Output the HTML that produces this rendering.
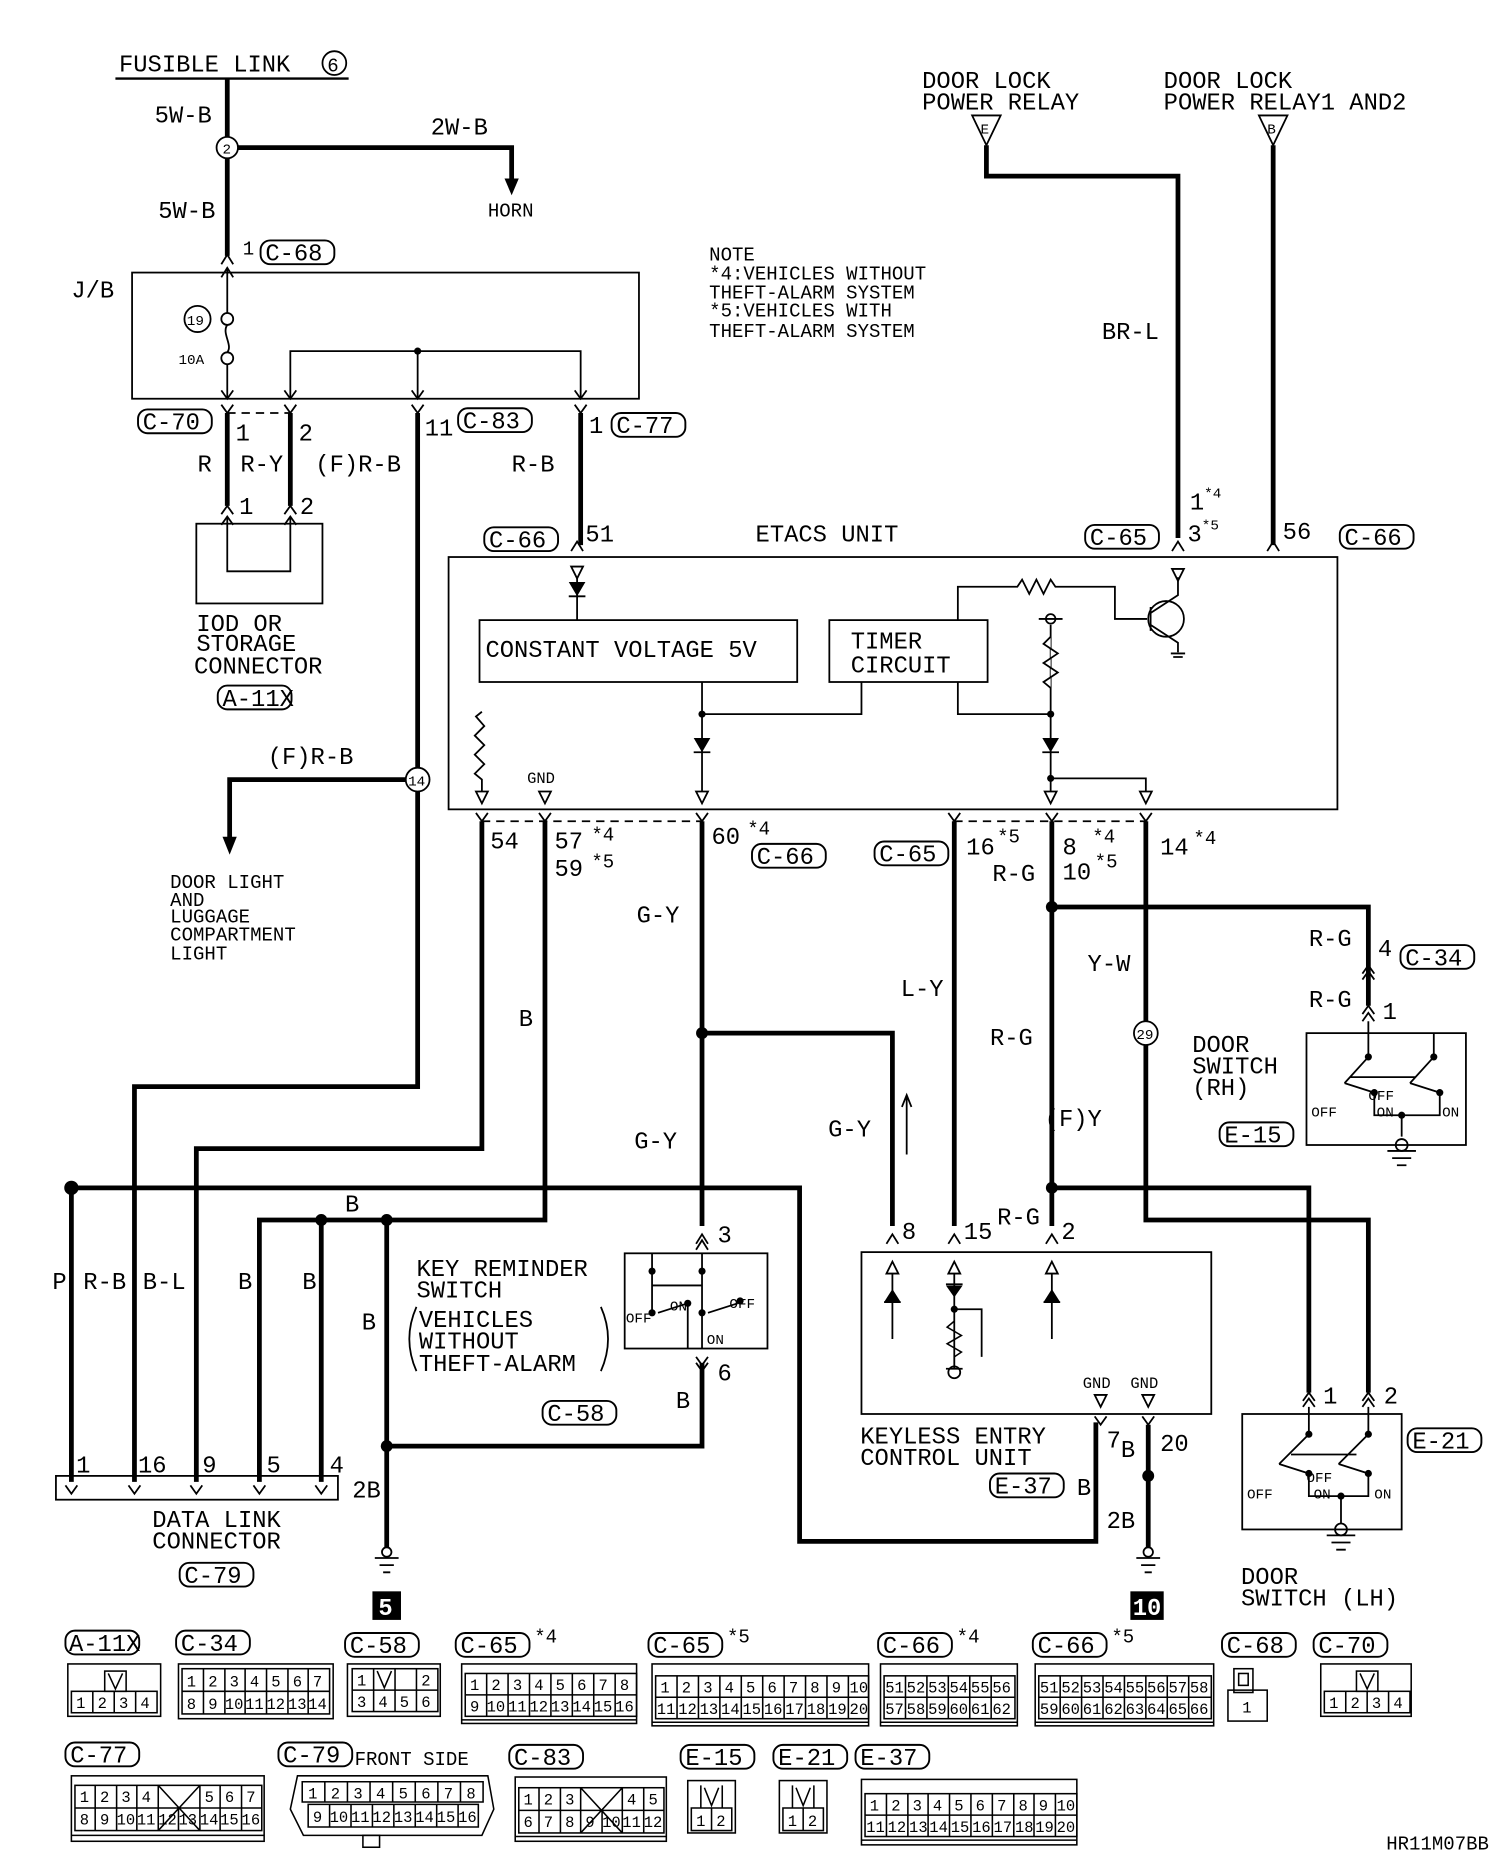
<!DOCTYPE html>
<html><head><meta charset="utf-8"><style>
html,body{margin:0;padding:0;background:#fff;}
svg{display:block;}
text{font-family:"Liberation Mono",monospace;font-size:20px;fill:#000;}
.s{font-size:16px;}
.xs{font-size:12px;}
.t{fill:none;stroke:#000;stroke-width:4;}
.n{fill:none;stroke:#000;stroke-width:1.5;}
.d{fill:none;stroke:#000;stroke-width:1.5;stroke-dasharray:7 5;}
.cl{fill:#fff;stroke:#000;stroke-width:1.6;}
.g{fill:none;stroke:#000;stroke-width:1.3;}
.gt{font-size:13px;}
</style></head><body>
<svg width="1504" height="1852" viewBox="0 0 1264 1556" preserveAspectRatio="none" xmlns="http://www.w3.org/2000/svg">
<rect width="1264" height="1556" fill="#fff"/>

<!-- FUSIBLE LINK -->
<text x="100" y="60" font-size="21">FUSIBLE LINK</text>
<circle cx="281" cy="53" r="10" class="n"/><text x="275" y="60" class="s">6</text>
<line x1="97" y1="66" x2="293" y2="66" stroke="#000" stroke-width="2"/>
<path class="t" d="M191 66V215"/>
<circle cx="191" cy="124" r="9" fill="#fff" stroke="#000" stroke-width="1.5"/><text x="187" y="129" class="xs">2</text>
<text x="130" y="103">5W-B</text><text x="133" y="183">5W-B</text>
<path class="t" d="M200 124H430V152"/><path d="M424 150L436 150L430 164Z"/>
<text x="362" y="113">2W-B</text><text x="410" y="182" class="s">HORN</text>
<path class="n" d="M186 222L191 214L196 222M186 233L191 225L196 233"/>
<text x="204" y="214" class="s">1</text>
<rect x="219" y="202" width="62" height="20" rx="8" class="cl"/><text x="223" y="219">C-68</text>

<!-- J/B -->
<rect x="111" y="229" width="426" height="106" class="n"/>
<text x="60" y="250">J/B</text>
<path class="n" d="M191 225V263M191 273C186 280 196 290 191 296M191 306V335"/>
<circle cx="191" cy="268" r="5" class="n"/><circle cx="191" cy="301" r="5" class="n"/>
<circle cx="166" cy="268" r="11" class="n"/><text x="157" y="273" class="xs">19</text>
<text x="150" y="306" class="xs">10A</text>
<path class="n" d="M244 335V295H488V335M351 295V335"/><circle cx="351" cy="295" r="3"/>
<path class="n" d="M186 328L191 335L196 328M239 328L244 335L249 328M346 328L351 335L356 328M483 328L488 335L493 328"/>
<path class="n" d="M186 340L191 347L196 340M239 340L244 347L249 340M346 340L351 347L356 340M483 340L488 347L493 340"/>
<rect x="116" y="344" width="62" height="20" rx="8" class="cl"/><text x="120" y="361">C-70</text>
<path class="t" d="M191 347V425M244 347V425M351 347V645M488 347V458"/>
<path class="d" d="M191 347H244"/>
<text x="198" y="370">1</text><text x="251" y="370">2</text><text x="357" y="366">11</text>
<rect x="385" y="343" width="62" height="20" rx="8" class="cl"/><text x="389" y="360">C-83</text>
<text x="495" y="364">1</text>
<rect x="514" y="347" width="62" height="20" rx="8" class="cl"/><text x="518" y="364">C-77</text>
<text x="166" y="396">R</text><text x="202" y="396">R-Y</text><text x="265" y="396">(F)R-B</text><text x="430" y="396">R-B</text>
<path class="n" d="M186 432L191 425L196 432M239 432L244 425L249 432M186 441L191 434L196 441M239 441L244 434L249 441"/>
<text x="201" y="432">1</text><text x="252" y="432">2</text>
<rect x="165" y="440" width="106" height="67" class="n"/>
<path class="n" d="M191 434V480H244V434"/>
<text x="165" y="530">IOD OR</text><text x="165" y="547">STORAGE</text><text x="163" y="566">CONNECTOR</text>
<rect x="183" y="576" width="62" height="20" rx="8" class="cl"/><text x="187" y="593">A-11X</text>

<!-- door light -->
<circle cx="351" cy="655" r="10" fill="#fff" stroke="#000" stroke-width="1.5"/><text x="343" y="660" class="xs">14</text>
<path class="t" d="M341 655H193V705"/><path d="M187 703L199 703L193 718Z"/>
<text x="225" y="642">(F)R-B</text>
<text x="143" y="746" class="s">DOOR LIGHT</text><text x="143" y="761" class="s">AND</text><text x="143" y="775" class="s">LUGGAGE</text><text x="143" y="790" class="s">COMPARTMENT</text><text x="143" y="806" class="s">LIGHT</text>
<path class="t" d="M351 665V913H113V1245"/>

<!-- NOTE -->
<text x="596" y="219" class="s">NOTE</text>
<text x="596" y="235" class="s">*4:VEHICLES WITHOUT</text>
<text x="596" y="251" class="s">   THEFT-ALARM SYSTEM</text>
<text x="596" y="266" class="s">*5:VEHICLES WITH</text>
<text x="596" y="283" class="s">   THEFT-ALARM SYSTEM</text>

<!-- door lock relays -->
<text x="775" y="74">DOOR LOCK</text><text x="775" y="92">POWER RELAY</text>
<path class="n" d="M817 97H841L829 122Z"/><text x="824" y="112" class="xs">E</text>
<path class="t" d="M829 122V148H990V452"/>
<text x="926" y="285">BR-L</text>
<text x="978" y="74">DOOR LOCK</text><text x="978" y="92">POWER RELAY1 AND2</text>
<path class="n" d="M1058 97H1082L1070 122Z"/><text x="1065" y="112" class="xs">B</text>
<path class="t" d="M1070 122V458"/>
<path class="n" d="M985 463L990 455L995 463M1065 463L1070 455L1075 463M480 463L485 455L490 463"/>
<text x="1000" y="428">1</text><text x="1012" y="418" class="xs">*4</text>
<text x="998" y="455">3</text><text x="1010" y="445" class="xs">*5</text>
<rect x="912" y="441" width="62" height="20" rx="8" class="cl"/><text x="916" y="458">C-65</text>
<text x="1078" y="453">56</text>
<rect x="1126" y="441" width="62" height="20" rx="8" class="cl"/><text x="1130" y="458">C-66</text>

<!-- ETACS -->
<text x="635" y="455">ETACS UNIT</text>
<rect x="407" y="443" width="62" height="20" rx="8" class="cl"/><text x="411" y="460">C-66</text>
<text x="492" y="455">51</text>
<rect x="377" y="468" width="747" height="212" class="n"/>
<path class="n" d="M480 476H490L485 486Z"/><path d="M478 489H492L485 501Z"/><path class="n" d="M478 501H492M485 486V521"/>
<rect x="403" y="521" width="267" height="52" class="n"/>
<text x="408" y="552">CONSTANT VOLTAGE 5V</text>
<rect x="697" y="521" width="133" height="52" class="n"/>
<text x="715" y="545">TIMER</text><text x="715" y="565">CIRCUIT</text>
<path class="n" d="M590 573V665M590 600H724V573M805 573V600H883M883 525V665M883 654H963V665"/>
<circle cx="590" cy="600" r="3"/><circle cx="883" cy="600" r="3"/><circle cx="883" cy="654" r="3"/>
<path d="M583 620H597L590 632Z"/><path class="n" d="M583 632H597"/>
<path d="M876 620H890L883 632Z"/><path class="n" d="M876 632H890"/>
<circle cx="883" cy="520" r="4" class="n"/><path class="n" d="M873 520H893"/>
<path fill="#fff" stroke="#000" stroke-width="1.5" d="M883 535L877 541L889 549L877 557L889 565L877 573L883 578"/>
<path class="n" d="M805 521V493H855L859 487L865 499L871 487L877 499L883 487L887 493H937V520H964"/>
<circle cx="980" cy="520" r="15" class="n"/>
<path class="n" d="M967 510V530M967 515L990 500V485M967 525L990 540V548M984 549H996M986 552H994"/>
<path class="n" d="M985 478H995L990 488Z"/>
<path class="n" d="M405 598L400 602L407 610L399 618L407 626L399 634L407 642L399 650L405 655V665"/>
<text x="443" y="658" class="gt">GND</text>
<path class="n" d="M400 665H410L405 675ZM453 665H463L458 675ZM585 665H595L590 675ZM878 665H888L883 675ZM958 665H968L963 675Z"/>
<path class="n" d="M400 683L405 690L410 683M453 683L458 690L463 683M585 683L590 690L595 683M797 683L802 690L807 683M879 683L884 690L889 683M958 683L963 690L968 683"/>
<path class="d" d="M405 690H590M802 690H963"/>
<text x="412" y="713">54</text><text x="466" y="713">57</text><text x="497" y="706" class="s">*4</text>
<text x="466" y="736">59</text><text x="497" y="729" class="s">*5</text>
<text x="598" y="709">60</text><text x="628" y="701" class="s">*4</text>
<rect x="632" y="709" width="62" height="20" rx="8" class="cl"/><text x="636" y="726">C-66</text>
<rect x="735" y="707" width="62" height="20" rx="8" class="cl"/><text x="739" y="724">C-65</text>
<text x="812" y="718">16</text><text x="838" y="708" class="s">*5</text>
<text x="893" y="718">8</text><text x="918" y="708" class="s">*4</text>
<text x="893" y="739">10</text><text x="920" y="729" class="s">*5</text>
<text x="834" y="740">R-G</text>
<text x="975" y="718">14</text><text x="1003" y="709" class="s">*4</text>

<!-- left wires -->
<path class="t" d="M405 690V965H165V1245M458 690V1025H218V1245M270 1025V1245M325 1025V1300M590 690V1030M590 868H750V1030"/>
<circle cx="270" cy="1025" r="5"/><circle cx="325" cy="1025" r="5"/><circle cx="590" cy="868" r="5"/>
<path class="t" d="M60 998H672V1295H921V1195M60 998V1245"/><circle cx="60" cy="998" r="6"/>
<text x="535" y="775">G-Y</text><text x="533" y="965">G-Y</text><text x="696" y="955">G-Y</text>
<path class="n" d="M762 970V920M758 930L762 920L766 930"/>
<text x="436" y="862">B</text><text x="290" y="1018">B</text>
<text x="44" y="1083">P</text><text x="70" y="1083">R-B</text><text x="120" y="1083">B-L</text>
<text x="200" y="1083">B</text><text x="254" y="1083">B</text><text x="304" y="1117">B</text>
<rect x="47" y="1240" width="237" height="20" class="n"/>
<path class="n" d="M55 1248L60 1255L65 1248M108 1248L113 1255L118 1248M160 1248L165 1255L170 1248M213 1248L218 1255L223 1248M265 1248L270 1255L275 1248"/>
<text x="64" y="1237">1</text><text x="116" y="1237">16</text><text x="170" y="1237">9</text><text x="224" y="1237">5</text><text x="277" y="1237">4</text>
<text x="296" y="1258">2B</text>
<text x="128" y="1283">DATA LINK</text><text x="128" y="1301">CONNECTOR</text>
<rect x="151" y="1313" width="62" height="20" rx="8" class="cl"/><text x="155" y="1330">C-79</text>
<circle cx="325" cy="1304" r="4" class="n"/><path class="n" d="M315 1309H335M319 1315H331M322 1321H328"/>
<rect x="313" y="1337" width="24" height="24" fill="#000"/><text x="318" y="1357" fill="#fff" style="fill:#fff;font-weight:bold">5</text>

<!-- key reminder -->
<path class="n" d="M585 1045L590 1037L595 1045M585 1050L590 1042L595 1050M585 1140L590 1147L595 1140M585 1145L590 1152L595 1145"/>
<text x="603" y="1044">3</text><text x="603" y="1160">6</text><text x="568" y="1183">B</text>
<rect x="525" y="1053" width="120" height="80" class="n"/>
<path class="n" d="M548 1053V1103M590 1053V1103M548 1080H590M553 1103L578 1095M595 1103L620 1095M578 1095V1133M590 1103V1133"/>
<circle cx="548" cy="1068" r="3"/><circle cx="590" cy="1068" r="3"/><circle cx="548" cy="1103" r="3"/><circle cx="590" cy="1103" r="3"/><circle cx="578" cy="1095" r="3"/><circle cx="622" cy="1093" r="3"/>
<text x="526" y="1111" class="xs">OFF</text><text x="563" y="1101" class="xs">ON</text><text x="613" y="1099" class="xs">OFF</text><text x="594" y="1129" class="xs">ON</text>
<path class="t" d="M590 1145V1215H325"/><circle cx="325" cy="1215" r="5"/>
<text x="350" y="1072">KEY REMINDER</text><text x="350" y="1090">SWITCH</text>
<text x="352" y="1115">VEHICLES</text><text x="352" y="1133">WITHOUT</text><text x="352" y="1152">THEFT-ALARM</text>
<path class="n" d="M350 1098Q338 1125 350 1152M505 1098Q517 1125 505 1152"/>
<rect x="456" y="1177" width="62" height="20" rx="8" class="cl"/><text x="460" y="1194">C-58</text>

<!-- right wires -->
<path class="t" d="M802 690V1030M884 690V1030M884 762H1150V845M884 998H1100V1170M963 690V858M963 878V1025H1150V1170"/>
<circle cx="884" cy="762" r="5"/><circle cx="884" cy="998" r="5"/>
<circle cx="963" cy="868" r="10" fill="#fff" stroke="#000" stroke-width="1.5"/><text x="955" y="873" class="xs">29</text>
<text x="757" y="837">L-Y</text><text x="832" y="878">R-G</text><text x="914" y="816">Y-W</text><text x="878" y="946">(F)Y</text>
<text x="1100" y="795">R-G</text><text x="1158" y="803">4</text>
<rect x="1177" y="794" width="62" height="20" rx="8" class="cl"/><text x="1181" y="811">C-34</text>
<text x="1100" y="846">R-G</text><text x="1162" y="856">1</text>
<path class="n" d="M1145 818L1150 811L1155 818M1145 823L1150 816L1155 823M1145 852L1150 845L1155 852M1145 858L1150 851L1155 858"/>
<rect x="1098" y="868" width="134" height="94" class="n"/>
<path class="n" d="M1150 858V888L1130 910M1205 868V888L1185 910M1135 905H1190M1130 910L1155 918M1185 910L1210 918M1155 918V937H1210V918M1178 937V955"/>
<circle cx="1150" cy="888" r="3"/><circle cx="1205" cy="888" r="3"/><circle cx="1155" cy="918" r="3"/><circle cx="1210" cy="918" r="3"/><circle cx="1178" cy="937" r="3"/>
<text x="1102" y="938" class="xs">OFF</text><text x="1150" y="924" class="xs">OFF</text><text x="1157" y="938" class="xs">ON</text><text x="1212" y="938" class="xs">ON</text>
<circle cx="1178" cy="962" r="5" class="n"/><path class="n" d="M1166 967H1190M1170 973H1186M1174 979H1182"/>
<text x="1002" y="884">DOOR</text><text x="1002" y="902">SWITCH</text><text x="1002" y="920">(RH)</text>
<rect x="1025" y="943" width="62" height="20" rx="8" class="cl"/><text x="1029" y="960">E-15</text>

<!-- keyless -->
<path class="n" d="M745 1045L750 1037L755 1045M797 1045L802 1037L807 1045M879 1045L884 1037L889 1045"/>
<text x="758" y="1041">8</text><text x="810" y="1041">15</text><text x="838" y="1029">R-G</text><text x="892" y="1041">2</text>
<rect x="724" y="1052" width="294" height="136" class="n"/>
<path class="n" d="M745 1070H755L750 1060ZM797 1070H807L802 1060ZM879 1070H889L884 1060Z"/>
<path class="n" d="M750 1070V1125M802 1070V1150M884 1070V1125M743 1094H757M877 1094H891M795 1079H809M802 1100H825V1140M795 1150H809"/>
<path d="M743 1094H757L750 1083ZM795 1080H809L802 1090ZM877 1094H891L884 1083Z"/>
<circle cx="802" cy="1100" r="3"/><circle cx="802" cy="1153" r="5" class="n"/>
<path fill="none" stroke="#000" stroke-width="1.3" d="M802 1110L796 1115L808 1122L796 1129L808 1136L802 1140V1148"/>
<text x="910" y="1166" class="gt">GND</text><text x="950" y="1166" class="gt">GND</text>
<path class="n" d="M920 1172H930L925 1182ZM960 1172H970L965 1182Z"/>
<path class="n" d="M920 1190L925 1197L930 1190M960 1190L965 1197L970 1190"/>
<path class="t" d="M965 1197V1300"/><circle cx="965" cy="1240" r="5"/>
<text x="930" y="1216">7</text><text x="942" y="1224">B</text><text x="975" y="1219">20</text><text x="930" y="1284">2B</text><text x="905" y="1256">B</text>
<text x="723" y="1213">KEYLESS ENTRY</text><text x="723" y="1231">CONTROL UNIT</text>
<rect x="832" y="1238" width="62" height="20" rx="8" class="cl"/><text x="836" y="1255">E-37</text>
<circle cx="965" cy="1304" r="4" class="n"/><path class="n" d="M955 1309H975M959 1315H971M962 1321H968"/>
<rect x="950" y="1337" width="28" height="24" fill="#000"/><text x="952" y="1357" style="fill:#fff;font-weight:bold">10</text>

<!-- E-21 -->
<path class="n" d="M1095 1177L1100 1170L1105 1177M1095 1182L1100 1175L1105 1182M1145 1177L1150 1170L1155 1177M1145 1182L1150 1175L1155 1182"/>
<text x="1112" y="1179">1</text><text x="1163" y="1179">2</text>
<rect x="1044" y="1188" width="134" height="97" class="n"/>
<path class="n" d="M1100 1182V1205L1075 1230M1150 1182V1205L1125 1230M1085 1222H1140M1075 1230L1100 1238M1125 1230L1150 1238M1100 1238V1257H1150V1238M1127 1257V1280"/>
<circle cx="1100" cy="1205" r="3"/><circle cx="1150" cy="1205" r="3"/><circle cx="1100" cy="1238" r="3"/><circle cx="1150" cy="1238" r="3"/><circle cx="1127" cy="1257" r="3"/>
<text x="1048" y="1259" class="xs">OFF</text><text x="1098" y="1245" class="xs">OFF</text><text x="1104" y="1259" class="xs">ON</text><text x="1155" y="1259" class="xs">ON</text>
<circle cx="1127" cy="1285" r="5" class="n"/><path class="n" d="M1115 1290H1139M1119 1296H1135M1123 1302H1131"/>
<rect x="1183" y="1200" width="62" height="20" rx="8" class="cl"/><text x="1187" y="1217">E-21</text>
<text x="1043" y="1331">DOOR</text><text x="1043" y="1349">SWITCH (LH)</text>

<!-- connector legends row 1 -->
<g>
<rect x="55" y="1370" width="62" height="20" rx="8" class="cl"/><text x="58" y="1387">A-11X</text>
<rect x="148" y="1370" width="62" height="20" rx="8" class="cl"/><text x="152" y="1387">C-34</text>
<rect x="290" y="1372" width="62" height="20" rx="8" class="cl"/><text x="294" y="1389">C-58</text>
<rect x="383" y="1372" width="62" height="20" rx="8" class="cl"/><text x="387" y="1389">C-65</text><text x="449" y="1380" class="s">*4</text>
<rect x="545" y="1372" width="62" height="20" rx="8" class="cl"/><text x="549" y="1389">C-65</text><text x="611" y="1380" class="s">*5</text>
<rect x="738" y="1372" width="62" height="20" rx="8" class="cl"/><text x="742" y="1389">C-66</text><text x="804" y="1380" class="s">*4</text>
<rect x="868" y="1372" width="62" height="20" rx="8" class="cl"/><text x="872" y="1389">C-66</text><text x="934" y="1380" class="s">*5</text>
<rect x="1027" y="1372" width="62" height="20" rx="8" class="cl"/><text x="1031" y="1389">C-68</text>
<rect x="1104" y="1372" width="62" height="20" rx="8" class="cl"/><text x="1108" y="1389">C-70</text>
</g>
<g class="gt">
<!-- A-11X -->
<rect x="57" y="1398" width="78" height="44" class="g"/>
<rect x="88" y="1404" width="18" height="17" class="g"/><path class="g" d="M91 1406L97 1419L103 1406"/>
<rect x="60" y="1421" width="72" height="18" class="g"/><path class="g" d="M78 1421V1439M96 1421V1439M114 1421V1439"/>
<text x="64" y="1435" class="gt">1</text><text x="82" y="1435" class="gt">2</text><text x="100" y="1435" class="gt">3</text><text x="118" y="1435" class="gt">4</text>
<!-- C-34 -->
<rect x="150" y="1398" width="130" height="46" class="g"/>
<rect x="153" y="1402" width="124" height="38" class="g"/><path class="g" d="M153 1421H277M171 1402V1440M189 1402V1440M206 1402V1440M224 1402V1440M242 1402V1440M259 1402V1440"/>
<text x="157" y="1417" class="gt">1</text><text x="175" y="1417" class="gt">2</text><text x="193" y="1417" class="gt">3</text><text x="210" y="1417" class="gt">4</text><text x="228" y="1417" class="gt">5</text><text x="246" y="1417" class="gt">6</text><text x="263" y="1417" class="gt">7</text>
<text x="157" y="1436" class="gt">8</text><text x="175" y="1436" class="gt">9</text><text x="189" y="1436" class="gt">10</text><text x="206" y="1436" class="gt">11</text><text x="224" y="1436" class="gt">12</text><text x="242" y="1436" class="gt">13</text><text x="259" y="1436" class="gt">14</text>
<!-- C-58 -->
<rect x="292" y="1398" width="78" height="44" class="g"/>
<rect x="296" y="1402" width="72" height="36" class="g"/><path class="g" d="M296 1420H368M314 1402V1438M332 1402V1420M350 1402V1438M332 1420V1438M317 1404L323 1418L329 1404"/>
<text x="300" y="1416" class="gt">1</text><text x="354" y="1416" class="gt">2</text>
<text x="300" y="1434" class="gt">3</text><text x="318" y="1434" class="gt">4</text><text x="336" y="1434" class="gt">5</text><text x="354" y="1434" class="gt">6</text>
<!-- C-65*4 -->
<rect x="388" y="1398" width="147" height="50" class="g"/>
<rect x="391" y="1406" width="144" height="36" class="g"/><path class="g" d="M391 1424H535M409 1406V1442M427 1406V1442M445 1406V1442M463 1406V1442M481 1406V1442M499 1406V1442M517 1406V1442M388 1445H535"/>
<text x="395" y="1420" class="gt">1</text><text x="413" y="1420" class="gt">2</text><text x="431" y="1420" class="gt">3</text><text x="449" y="1420" class="gt">4</text><text x="467" y="1420" class="gt">5</text><text x="485" y="1420" class="gt">6</text><text x="503" y="1420" class="gt">7</text><text x="521" y="1420" class="gt">8</text>
<text x="395" y="1438" class="gt">9</text><text x="409" y="1438" class="gt">10</text><text x="427" y="1438" class="gt">11</text><text x="445" y="1438" class="gt">12</text><text x="463" y="1438" class="gt">13</text><text x="481" y="1438" class="gt">14</text><text x="499" y="1438" class="gt">15</text><text x="517" y="1438" class="gt">16</text>
<!-- C-65*5 -->
<rect x="548" y="1398" width="182" height="52" class="g"/>
<rect x="551" y="1408" width="179" height="36" class="g"/><path class="g" d="M551 1426H730M569 1408V1444M587 1408V1444M605 1408V1444M623 1408V1444M641 1408V1444M659 1408V1444M677 1408V1444M695 1408V1444M713 1408V1444M548 1447H730"/>
<text x="555" y="1422" class="gt">1</text><text x="573" y="1422" class="gt">2</text><text x="591" y="1422" class="gt">3</text><text x="609" y="1422" class="gt">4</text><text x="627" y="1422" class="gt">5</text><text x="645" y="1422" class="gt">6</text><text x="663" y="1422" class="gt">7</text><text x="681" y="1422" class="gt">8</text><text x="699" y="1422" class="gt">9</text><text x="714" y="1422" class="gt">10</text>
<text x="552" y="1440" class="gt">11</text><text x="570" y="1440" class="gt">12</text><text x="588" y="1440" class="gt">13</text><text x="606" y="1440" class="gt">14</text><text x="624" y="1440" class="gt">15</text><text x="642" y="1440" class="gt">16</text><text x="660" y="1440" class="gt">17</text><text x="678" y="1440" class="gt">18</text><text x="696" y="1440" class="gt">19</text><text x="714" y="1440" class="gt">20</text>
<!-- C-66*4 -->
<rect x="740" y="1398" width="115" height="52" class="g"/>
<rect x="743" y="1408" width="110" height="36" class="g"/><path class="g" d="M743 1426H853M761 1408V1444M779 1408V1444M797 1408V1444M815 1408V1444M833 1408V1444M740 1447H855"/>
<text x="744" y="1422" class="gt">51</text><text x="762" y="1422" class="gt">52</text><text x="780" y="1422" class="gt">53</text><text x="798" y="1422" class="gt">54</text><text x="816" y="1422" class="gt">55</text><text x="834" y="1422" class="gt">56</text>
<text x="744" y="1440" class="gt">57</text><text x="762" y="1440" class="gt">58</text><text x="780" y="1440" class="gt">59</text><text x="798" y="1440" class="gt">60</text><text x="816" y="1440" class="gt">61</text><text x="834" y="1440" class="gt">62</text>
<!-- C-66*5 -->
<rect x="870" y="1398" width="150" height="52" class="g"/>
<rect x="873" y="1408" width="145" height="36" class="g"/><path class="g" d="M873 1426H1018M891 1408V1444M909 1408V1444M927 1408V1444M945 1408V1444M963 1408V1444M981 1408V1444M999 1408V1444M870 1447H1020"/>
<text x="874" y="1422" class="gt">51</text><text x="892" y="1422" class="gt">52</text><text x="910" y="1422" class="gt">53</text><text x="928" y="1422" class="gt">54</text><text x="946" y="1422" class="gt">55</text><text x="964" y="1422" class="gt">56</text><text x="982" y="1422" class="gt">57</text><text x="1000" y="1422" class="gt">58</text>
<text x="874" y="1440" class="gt">59</text><text x="892" y="1440" class="gt">60</text><text x="910" y="1440" class="gt">61</text><text x="928" y="1440" class="gt">62</text><text x="946" y="1440" class="gt">63</text><text x="964" y="1440" class="gt">64</text><text x="982" y="1440" class="gt">65</text><text x="1000" y="1440" class="gt">66</text>
<!-- C-68 -->
<rect x="1037" y="1402" width="16" height="20" class="g"/><rect x="1041" y="1406" width="8" height="10" class="g"/>
<rect x="1032" y="1420" width="33" height="26" class="g"/><text x="1044" y="1439" class="gt">1</text>
<!-- C-70 -->
<rect x="1110" y="1398" width="76" height="44" class="g"/>
<rect x="1140" y="1404" width="18" height="17" class="g"/><path class="g" d="M1143 1406L1149 1419L1155 1406"/>
<rect x="1113" y="1421" width="72" height="18" class="g"/><path class="g" d="M1131 1421V1439M1149 1421V1439M1167 1421V1439"/>
<text x="1117" y="1435" class="gt">1</text><text x="1135" y="1435" class="gt">2</text><text x="1153" y="1435" class="gt">3</text><text x="1171" y="1435" class="gt">4</text>
</g>

<!-- row 2 legends -->
<rect x="55" y="1464" width="62" height="20" rx="8" class="cl"/><text x="59" y="1481">C-77</text>
<rect x="234" y="1464" width="62" height="20" rx="8" class="cl"/><text x="238" y="1481">C-79</text><text x="298" y="1483" class="s">FRONT SIDE</text>
<rect x="428" y="1466" width="62" height="20" rx="8" class="cl"/><text x="432" y="1483">C-83</text>
<rect x="572" y="1466" width="62" height="20" rx="8" class="cl"/><text x="576" y="1483">E-15</text>
<rect x="650" y="1466" width="62" height="20" rx="8" class="cl"/><text x="654" y="1483">E-21</text>
<rect x="719" y="1466" width="62" height="20" rx="8" class="cl"/><text x="723" y="1483">E-37</text>

<!-- C-77 -->
<rect x="60" y="1492" width="162" height="55" class="g"/>
<rect x="63" y="1500" width="157" height="38" class="g"/>
<path class="g" d="M63 1519H220M80 1500V1538M98 1500V1538M115 1500V1538M133 1500V1538M150 1519V1538M168 1519V1538M185 1500V1538M203 1500V1538M133 1500L168 1538M168 1500L133 1538M168 1500V1519M60 1542H222"/>
<text x="67" y="1514" class="gt">1</text><text x="84" y="1514" class="gt">2</text><text x="102" y="1514" class="gt">3</text><text x="119" y="1514" class="gt">4</text><text x="172" y="1514" class="gt">5</text><text x="189" y="1514" class="gt">6</text><text x="207" y="1514" class="gt">7</text>
<text x="67" y="1533" class="gt">8</text><text x="84" y="1533" class="gt">9</text><text x="98" y="1533" class="gt">10</text><text x="115" y="1533" class="gt">11</text><text x="133" y="1533" class="gt">12</text><text x="150" y="1533" class="gt">13</text><text x="168" y="1533" class="gt">14</text><text x="185" y="1533" class="gt">15</text><text x="203" y="1533" class="gt">16</text>
<!-- C-79 -->
<path class="g" d="M250 1492H410L415 1520L405 1542H255L244 1520Z"/>
<rect x="305" y="1542" width="14" height="10" class="g"/>
<path class="g" d="M254 1497H406V1514H254ZM259 1516H402V1535H259ZM273 1497V1514M292 1497V1514M311 1497V1514M330 1497V1514M349 1497V1514M368 1497V1514M387 1497V1514M277 1516V1535M295 1516V1535M313 1516V1535M331 1516V1535M349 1516V1535M367 1516V1535M385 1516V1535"/>
<text x="259" y="1511" class="gt">1</text><text x="278" y="1511" class="gt">2</text><text x="297" y="1511" class="gt">3</text><text x="316" y="1511" class="gt">4</text><text x="335" y="1511" class="gt">5</text><text x="354" y="1511" class="gt">6</text><text x="373" y="1511" class="gt">7</text><text x="392" y="1511" class="gt">8</text>
<text x="263" y="1531" class="gt">9</text><text x="277" y="1531" class="gt">10</text><text x="295" y="1531" class="gt">11</text><text x="313" y="1531" class="gt">12</text><text x="331" y="1531" class="gt">13</text><text x="349" y="1531" class="gt">14</text><text x="367" y="1531" class="gt">15</text><text x="385" y="1531" class="gt">16</text>
<!-- C-83 -->
<rect x="433" y="1493" width="127" height="54" class="g"/>
<rect x="436" y="1502" width="122" height="38" class="g"/>
<path class="g" d="M436 1521H558M453 1502V1540M471 1502V1540M488 1502V1540M506 1521V1540M523 1502V1540M541 1502V1540M488 1502L523 1540M523 1502L488 1540M433 1543H560"/>
<text x="440" y="1516" class="gt">1</text><text x="457" y="1516" class="gt">2</text><text x="475" y="1516" class="gt">3</text><text x="527" y="1516" class="gt">4</text><text x="545" y="1516" class="gt">5</text>
<text x="440" y="1535" class="gt">6</text><text x="457" y="1535" class="gt">7</text><text x="475" y="1535" class="gt">8</text><text x="492" y="1535" class="gt">9</text><text x="506" y="1535" class="gt">10</text><text x="523" y="1535" class="gt">11</text><text x="541" y="1535" class="gt">12</text>
<!-- E-15 -->
<rect x="578" y="1496" width="40" height="44" class="g"/><path class="g" d="M589 1500V1519H607V1500M592 1502L598 1517L604 1502M581 1519H615V1538H581ZM598 1519V1538"/>
<text x="585" y="1534" class="gt">1</text><text x="602" y="1534" class="gt">2</text>
<!-- E-21 -->
<rect x="655" y="1496" width="40" height="44" class="g"/><path class="g" d="M666 1500V1519H684V1500M669 1502L675 1517L681 1502M658 1519H692V1538H658ZM675 1519V1538"/>
<text x="662" y="1534" class="gt">1</text><text x="679" y="1534" class="gt">2</text>
<!-- E-37 -->
<rect x="724" y="1495" width="181" height="55" class="g"/>
<rect x="727" y="1507" width="178" height="36" class="g"/>
<path class="g" d="M727 1525H905M745 1507V1543M763 1507V1543M780 1507V1543M798 1507V1543M816 1507V1543M834 1507V1543M852 1507V1543M869 1507V1543M887 1507V1543M724 1546H905"/>
<text x="731" y="1521" class="gt">1</text><text x="749" y="1521" class="gt">2</text><text x="767" y="1521" class="gt">3</text><text x="784" y="1521" class="gt">4</text><text x="802" y="1521" class="gt">5</text><text x="820" y="1521" class="gt">6</text><text x="838" y="1521" class="gt">7</text><text x="856" y="1521" class="gt">8</text><text x="873" y="1521" class="gt">9</text><text x="888" y="1521" class="gt">10</text>
<text x="728" y="1539" class="gt">11</text><text x="746" y="1539" class="gt">12</text><text x="764" y="1539" class="gt">13</text><text x="781" y="1539" class="gt">14</text><text x="799" y="1539" class="gt">15</text><text x="817" y="1539" class="gt">16</text><text x="835" y="1539" class="gt">17</text><text x="853" y="1539" class="gt">18</text><text x="870" y="1539" class="gt">19</text><text x="888" y="1539" class="gt">20</text>

<text x="1165" y="1554" class="s">HR11M07BB</text>
</svg>
</body></html>
